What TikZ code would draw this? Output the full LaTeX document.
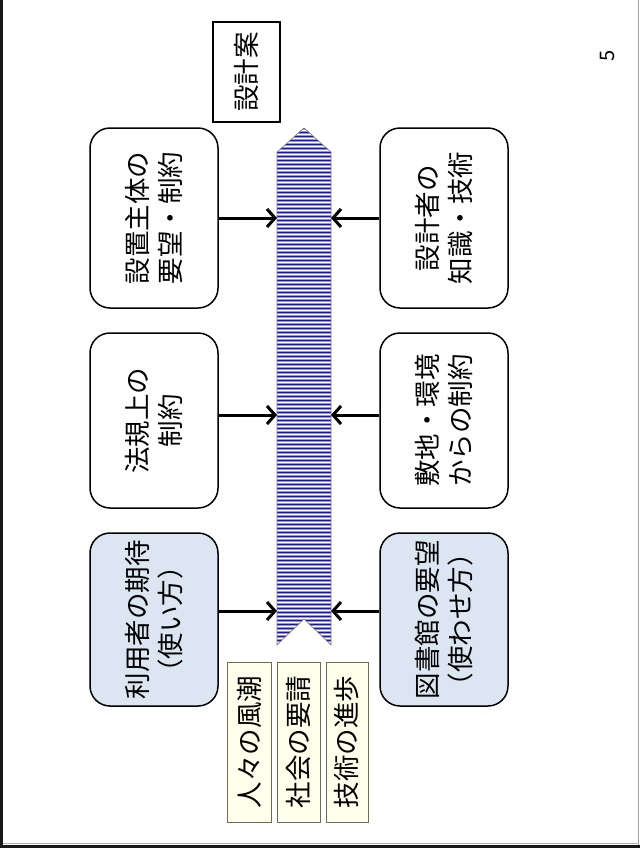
\documentclass[tikz,border=0pt]{standalone}
\usepackage{fontspec}
\setmainfont{Noto Sans CJK JP}
\usetikzlibrary{arrows.meta}
\definecolor{boxblue}{RGB}{220,230,242}
\definecolor{noteyellow}{RGB}{255,255,236}
\definecolor{noteborder}{RGB}{110,110,80}
\definecolor{arrowfill}{RGB}{150,150,212}
\definecolor{stripenavy}{RGB}{25,25,145}
\begin{document}
\begin{tikzpicture}[x=1pt,y=-1pt,
  cjk/.style={font=\fontsize{26.5}{33}\selectfont},
  rbox/.style={draw, line width=1.5pt, rounded corners=20pt, rotate=90,
    minimum height=128pt, align=center, inner sep=0pt, cjk},
  bluebox/.style={rbox, fill=boxblue},
  notebox/.style={draw=noteborder, line width=0.8pt, fill=noteyellow, rotate=90,
    minimum width=160pt, inner sep=0pt, cjk},
  resultbox/.style={draw, line width=2pt, rotate=90, minimum width=100pt,
    minimum height=67pt, inner sep=0pt, cjk},
  conn/.style={line width=3pt, -{Straight Barb[length=8pt,width=18pt,line width=3pt]}}
]
\useasboundingbox (0,0) rectangle (640,849);
% frame
\draw[gray!70, line width=1.5pt] (638.5,0) -- (638.5,845);
\draw[gray!60, line width=1pt] (3,843.5) -- (638,843.5);
\draw[black!90, line width=2.5pt] (1.25,0) -- (1.25,846.5) -- (640,846.5);

% result box
\node[resultbox] (res) at (246.5,72) {設計案};

% big arrow
\fill[arrowfill] (277,152) -- (304,128) -- (331,152) -- (331,645) -- (304,619) -- (277,645) -- cycle;
\begin{scope}
\clip (277,152) -- (304,128) -- (331,152) -- (331,645) -- (304,619) -- (277,645) -- cycle;
\foreach \yy in {128,132,...,648} {
  \draw[stripenavy, line width=0.6pt] (270,\yy) -- (340,\yy);
  \draw[white, line width=0.8pt] (270,\yy+2) -- (340,\yy+2);
}
\end{scope}
\draw[gray, line width=0.6pt] (277,152) -- (304,128) -- (331,152) -- (331,645) -- (304,619) -- (277,645) -- cycle;

\coordinate (L1) at (277,218);
\coordinate (L2) at (277,415);
\coordinate (L3) at (277,611);
\coordinate (R1) at (331,218);
\coordinate (R2) at (331,415);
\coordinate (R3) at (331,611);

% left boxes
\node[rbox, minimum width=180pt] (l1) at (154,218) {設置主体の\\要望・制約};
\node[rbox, minimum width=175pt] (l2) at (154,420.5) {法規上の\\制約};
\node[bluebox, minimum width=173pt] (l3) at (154,619.5) {利用者の期待\\（使い方）};
% right boxes
\node[rbox, minimum width=180pt] (r1) at (444,218) {設計者の\\知識・技術};
\node[rbox, minimum width=175pt] (r2) at (444,420.5) {敷地・環境\\からの制約};
\node[bluebox, minimum width=173pt] (r3) at (444,619.5) {図書館の要望\\（使わせ方）};

% connectors
\draw[conn] (l1.south) -- (L1);
\draw[conn] (l2.south |- L2) -- (L2);
\draw[conn] (l3.south |- L3) -- (L3);
\draw[conn] (r1.north) -- (R1);
\draw[conn] (r2.north |- R2) -- (R2);
\draw[conn] (r3.north |- R3) -- (R3);

% notes
\node[notebox, minimum height=44pt] (n1) at (249,742) {人々の風潮};
\node[notebox, minimum height=43pt] (n2) at (298.5,742) {社会の要請};
\node[notebox, minimum height=42pt] (n3) at (347,742) {技術の進歩};

% page number
\node[rotate=90, inner sep=0pt] (pg) at (607,56) {\fontsize{20}{22}\selectfont 5};
\end{tikzpicture}
\end{document}
